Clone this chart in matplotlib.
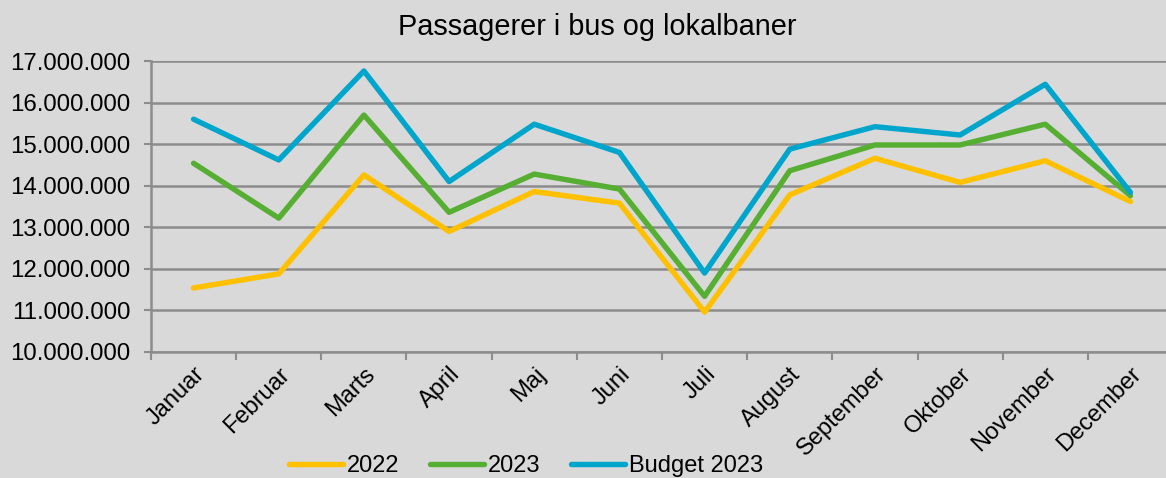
import matplotlib.pyplot as plt
from matplotlib.ticker import FuncFormatter, FixedLocator

plt.rcParams['font.family'] = ['Liberation Sans', 'DejaVu Sans']

months = ['Januar', 'Februar', 'Marts', 'April', 'Maj', 'Juni', 'Juli',
          'August', 'September', 'Oktober', 'November', 'December']
pass_2022 = [11.54, 11.88, 14.26, 12.90, 13.86, 13.58, 10.96,
             13.78, 14.66, 14.08, 14.60, 13.62]
pass_2023 = [14.54, 13.22, 15.70, 13.36, 14.28, 13.92, 11.34,
             14.36, 14.98, 14.98, 15.48, 13.76]
budget_2023 = [15.60, 14.62, 16.76, 14.10, 15.48, 14.80, 11.90,
               14.88, 15.42, 15.22, 16.44, 13.84]
# millions -> persons
pass_2022 = [v * 1e6 for v in pass_2022]
pass_2023 = [v * 1e6 for v in pass_2023]
budget_2023 = [v * 1e6 for v in budget_2023]

bg = '#d9d9d9'
grid_col = '#8c8c8c'

fig = plt.figure(figsize=(11.66, 4.78), dpi=100, facecolor=bg)
ax = fig.add_axes([151 / 1166, 1 - 352 / 478, 1022 / 1166, 291 / 478])
ax.set_facecolor(bg)

x = list(range(len(months)))
ax.plot(x, pass_2022, color='#FFC000', lw=3.9, label='2022', solid_capstyle='round')
ax.plot(x, pass_2023, color='#56AE32', lw=3.9, label='2023', solid_capstyle='round')
ax.plot(x, budget_2023, color='#00A5CC', lw=3.9, label='Budget 2023', solid_capstyle='round')

ax.set_xlim(-0.5, len(months) - 0.5)
ax.set_ylim(10e6, 17e6)
ax.set_yticks([10e6 + i * 1e6 for i in range(8)])
ax.yaxis.set_major_formatter(FuncFormatter(lambda v, p: f'{int(v):,}'.replace(',', '.')))
ax.grid(axis='y', color=grid_col, lw=1.8)
ax.set_axisbelow(True)

ax.set_xticks(x)
ax.set_xticklabels(months, rotation=45, ha='right', rotation_mode='anchor')
ax.xaxis.set_minor_locator(FixedLocator([i - 0.5 for i in range(len(months) + 1)]))
ax.tick_params(axis='x', which='major', length=0, pad=8, labelsize=17)
ax.tick_params(axis='x', which='minor', length=6, width=1.5, color=grid_col)
ax.tick_params(axis='y', length=5, width=1.5, color=grid_col, pad=10, labelsize=17.3)

for s in ['top', 'right']:
    ax.spines[s].set_visible(False)
for s in ['left', 'bottom']:
    ax.spines[s].set_color(grid_col)
    ax.spines[s].set_linewidth(1.8)

fig.text(0.512, 0.943, 'Passagerer i bus og lokalbaner', ha='center', va='center', fontsize=20.8)

fig.legend(loc='center', bbox_to_anchor=(0.451, 0.025), ncol=3, frameon=False,
           fontsize=17, handlelength=2.3, handletextpad=0.15, columnspacing=1.3)

fig.savefig('out.png', dpi=100, facecolor=bg)
